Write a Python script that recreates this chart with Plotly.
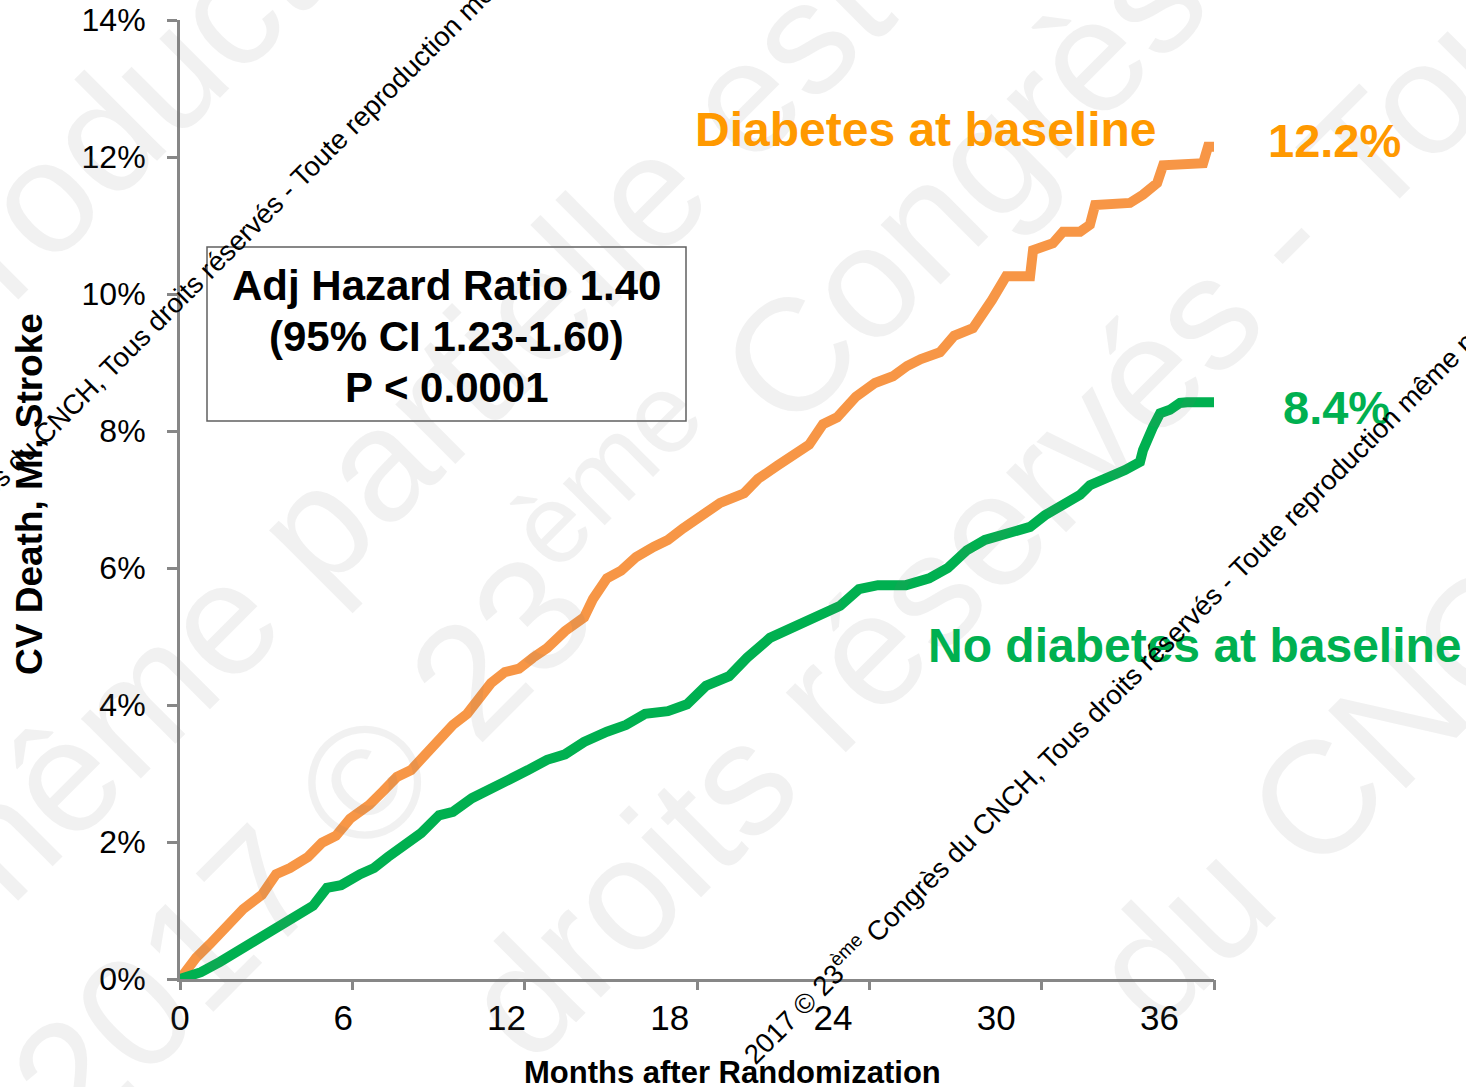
import plotly.graph_objects as go

# ---------------- data ----------------
diab_months = [0, 0.59, 1.10, 1.80, 2.32, 3.01, 3.53, 4.04, 4.70, 5.22, 5.73, 6.25, 6.95, 7.46,
               7.97, 8.49, 9.00, 9.52, 10.03, 10.55, 11.06, 11.43, 11.94, 12.46, 12.97, 13.49,
               14.15, 14.85, 15.18, 15.69, 16.21, 16.76, 17.42, 17.93, 18.49, 19.18, 19.85,
               20.73, 21.24, 21.94, 22.60, 23.12, 23.63, 24.15, 24.84, 25.54, 26.20, 26.72,
               27.23, 27.93, 28.45, 29.14, 29.84, 30.17, 30.36, 31.24, 31.35, 32.08, 32.45,
               33.08, 33.44, 33.63, 34.91, 35.39, 35.91, 36.13, 37.60, 37.78, 38.0]
diab_pct = [0.00, 0.31, 0.51, 0.82, 1.02, 1.23, 1.53, 1.62, 1.78, 1.99, 2.09, 2.34, 2.54, 2.74,
            2.95, 3.05, 3.26, 3.50, 3.71, 3.87, 4.12, 4.32, 4.48, 4.53, 4.69, 4.83,
            5.08, 5.28, 5.55, 5.85, 5.96, 6.16, 6.31, 6.41, 6.58, 6.79, 6.95,
            7.09, 7.30, 7.49, 7.65, 7.80, 8.10, 8.20, 8.50, 8.70, 8.80, 8.95,
            9.05, 9.15, 9.39, 9.50, 9.91, 10.12, 10.26, 10.26, 10.64, 10.74, 10.91,
            10.91, 11.01, 11.30, 11.33, 11.45, 11.62, 11.88, 11.91, 12.15, 12.15]

nodiab_months = [0, 0.77, 1.47, 2.13, 2.83, 3.53, 4.19, 4.89, 5.40, 5.92, 6.62, 7.13, 7.64,
                 8.34, 8.86, 9.52, 10.03, 10.73, 11.43, 12.09, 12.79, 13.49, 14.15, 14.85,
                 15.69, 16.39, 17.09, 17.93, 18.63, 19.33, 20.18, 20.84, 21.68, 22.56, 23.41,
                 24.26, 24.95, 25.65, 26.68, 27.53, 28.22, 28.92, 29.58, 30.14, 31.24, 31.79,
                 32.52, 33.08, 33.44, 34.18, 34.73, 35.28, 35.39, 35.76, 36.02, 36.38, 36.75,
                 37.01, 38.0]
nodiab_pct = [0.00, 0.10, 0.25, 0.41, 0.55, 0.76, 0.92, 1.07, 1.33, 1.37, 1.53, 1.62, 1.78,
              1.99, 2.13, 2.39, 2.44, 2.64, 2.80, 2.91, 3.05, 3.20, 3.28, 3.46,
              3.61, 3.71, 3.87, 3.91, 4.01, 4.28, 4.42, 4.69, 4.98, 5.14, 5.28,
              5.45, 5.69, 5.75, 5.75, 5.85, 6.00, 6.26, 6.41, 6.48, 6.60, 6.77,
              6.92, 7.07, 7.21, 7.33, 7.43, 7.55, 7.72, 8.06, 8.26, 8.31, 8.41,
              8.42, 8.42]

x_tick_vals = [0, 6, 12, 18, 24, 30, 36]
x_tick_text = ["0", "6", "12", "18", "24", "30", "36"]
y_tick_vals = [0, 2, 4, 6, 8, 10, 12, 14]
y_tick_text = ["0%", "2%", "4%", "6%", "8%", "10%", "12%", "14%"]
x_max = 38
y_max = 14

hr_lines = ["Adj Hazard Ratio 1.40", "(95% CI 1.23-1.60)", "P < 0.0001"]

ORANGE_LINE = "#F79646"
ORANGE_TEXT = "#FF9900"
GREEN = "#00B050"
AXIS = "#878787"
FONT = "Liberation Sans, Arial, sans-serif"

W, H = 1466, 1087
L, R, T, B = 180, 252, 20, 108
PW, PH = W - L - R, H - T - B


def px(xp):
    return (xp - L) / PW


def py(yp):
    return (H - B - yp) / PH


fig = go.Figure()
fig.add_trace(go.Scatter(x=diab_months, y=diab_pct, mode="lines",
                         line=dict(color=ORANGE_LINE, width=10), hoverinfo="skip",
                         showlegend=False))
fig.add_trace(go.Scatter(x=nodiab_months, y=nodiab_pct, mode="lines",
                         line=dict(color=GREEN, width=10), hoverinfo="skip",
                         showlegend=False))
# helper trace for the tick-mark axis
fig.add_trace(go.Scatter(x=[0], y=[0], xaxis="x2", mode="markers",
                         marker=dict(opacity=0), hoverinfo="skip", showlegend=False))

fig.update_layout(
    width=W, height=H,
    margin=dict(l=L, r=R, t=T, b=B, autoexpand=False),
    paper_bgcolor="white", plot_bgcolor="rgba(0,0,0,0)",
    font=dict(family=FONT, color="black"),
    xaxis=dict(range=[0, x_max], tickmode="array", tickvals=x_tick_vals,
               ticktext=x_tick_text, ticks="", showline=True, linecolor=AXIS,
               linewidth=3, showgrid=False, zeroline=False, automargin=False,
               tickfont=dict(size=35, family=FONT), ticklabelstandoff=6),
    xaxis2=dict(range=[0, x_max], overlaying="x", anchor="y", side="bottom",
                tickmode="array", tickvals=[x_max * k / 6 for k in range(7)],
                ticks="outside", ticklen=10, tickwidth=3, tickcolor=AXIS,
                automargin=False,
                showticklabels=False, showline=False, showgrid=False, zeroline=False),
    yaxis=dict(range=[0, y_max], tickmode="array", tickvals=y_tick_vals,
               ticktext=y_tick_text, ticks="outside", ticklen=10, tickwidth=3,
               tickcolor=AXIS, showline=True, linecolor=AXIS, linewidth=3,
               showgrid=False, zeroline=False, automargin=False,
               tickfont=dict(size=32, family=FONT), ticklabelstandoff=15),
)

# box around the hazard-ratio text
fig.add_shape(type="rect", xref="paper", yref="paper",
              x0=px(207), x1=px(686), y0=py(421), y1=py(247),
              line=dict(color="#606060", width=1.5), fillcolor="rgba(0,0,0,0)")

ann = []

# faint background watermark
WM = "rgba(120,120,120,0.10)"
for text, cx, cy in [
    ("reproduction", 122, 118),
    ("même partielle est", 398, 442),
    ("2017 © 23<sup>ème</sup> Congrès", 600, 530),
    ("droits réservés - Toute", 1049, 470),
    ("du CNCH", 1360, 755),
]:
    ann.append(dict(text=text, x=px(cx), y=py(cy), textangle=-45,
                    font=dict(size=160, family=FONT, color=WM)))

# labels
ann += [
    dict(text="<b>Diabetes at baseline</b>", x=px(926), y=py(130),
         font=dict(size=48, color=ORANGE_TEXT, family=FONT)),
    dict(text="<b>12.2%</b>", x=px(1334), y=py(141),
         font=dict(size=47, color=ORANGE_TEXT, family=FONT)),
    dict(text="<b>8.4%</b>", x=px(1336), y=py(408),
         font=dict(size=47, color=GREEN, family=FONT)),
    dict(text="<b>No diabetes at baseline</b>", x=px(1195), y=py(645),
         font=dict(size=48, color=GREEN, family=FONT)),
    dict(text="<b>CV Death, MI, Stroke</b>", x=px(30), y=py(494), textangle=-90,
         font=dict(size=37, color="black", family=FONT)),
    dict(text="<b>Months after Randomization</b>", x=px(732), y=py(1072),
         font=dict(size=31, color="black", family=FONT)),
]
for line_text, cy in zip(hr_lines, [285, 336, 387]):
    ann.append(dict(text=f"<b>{line_text}</b>", x=px(446.5), y=py(cy),
                    font=dict(size=42, color="black", family=FONT)))

# small black copyright lines
COPY = ("2017 © 23<sup>ème</sup> Congrès du CNCH, Tous droits réservés - "
        "Toute reproduction même partielle est interdite")
for cx, cy in [(1190, 615), (252, 224)]:
    ann.append(dict(text=COPY, x=px(cx), y=py(cy), textangle=-45,
                    font=dict(size=27.5, color="black", family=FONT)))

for a in ann:
    a.setdefault("xref", "paper")
    a.setdefault("yref", "paper")
    a.setdefault("showarrow", False)
    a.setdefault("xanchor", "center")
    a.setdefault("yanchor", "middle")

fig.update_layout(annotations=ann)
fig.write_html("out.html")
